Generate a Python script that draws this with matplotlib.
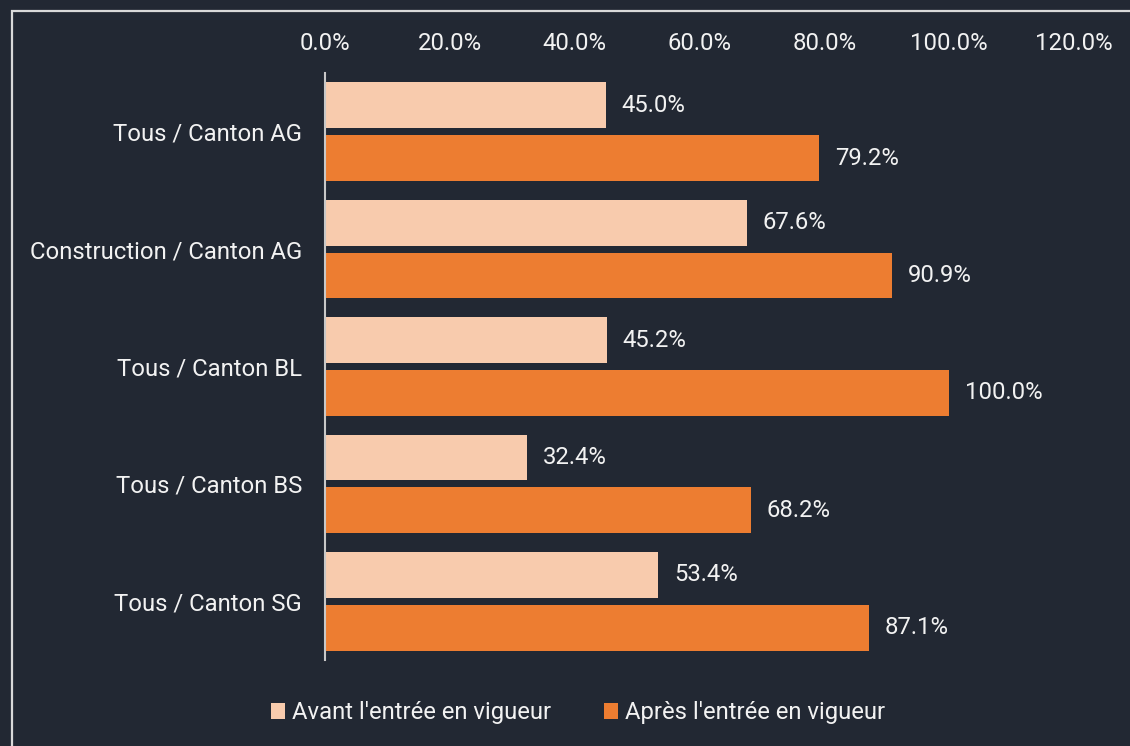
import numpy as np
import matplotlib.pyplot as plt
from matplotlib.patches import Rectangle
from matplotlib.ticker import FuncFormatter

categories = ['Tous / Canton AG', 'Construction / Canton AG', 'Tous / Canton BL',
              'Tous / Canton BS', 'Tous / Canton SG']
avant = [45.0, 67.6, 45.2, 32.4, 53.4]
apres = [79.2, 90.9, 100.0, 68.2, 87.1]
series_names = ["Avant l'entrée en vigueur", "Après l'entrée en vigueur"]

bg = '#222833'
c_avant = '#F8CBAD'
c_apres = '#ED7D31'
txt = '#F2F2F2'
fs = 17.2

plt.rcParams['font.family'] = ['Roboto', 'DejaVu Sans']

fig = plt.figure(figsize=(11.3, 7.46), dpi=100, facecolor=bg)
ax = fig.add_axes([325/1130, 1 - 660/746, (1074 - 325)/1130, (660 - 73)/746])
ax.set_facecolor(bg)

y = np.arange(len(categories))
h = 0.39
off = 0.225
b1 = ax.barh(y - off, avant, height=h, color=c_avant, label=series_names[0])
b2 = ax.barh(y + off, apres, height=h, color=c_apres, label=series_names[1])

for bars, vals in [(b1, avant), (b2, apres)]:
    for bar, v in zip(bars, vals):
        ax.text(v + 2.5, bar.get_y() + bar.get_height()/2, '%.1f%%' % v,
                va='center', ha='left', color=txt, fontsize=fs)

ax.set_xlim(0, 120)
ax.set_ylim(len(categories) - 0.5, -0.5)
ax.set_xticks(np.arange(0, 121, 20))
ax.xaxis.set_major_formatter(FuncFormatter(lambda v, p: '%.1f%%' % v))
ax.xaxis.tick_top()
ax.tick_params(axis='x', length=0, pad=13, labelcolor=txt, labelsize=fs)
ax.set_yticks(y)
ax.set_yticklabels(categories)
ax.tick_params(axis='y', length=0, pad=16.5, labelcolor=txt, labelsize=fs)
for s in ['top', 'right', 'bottom']:
    ax.spines[s].set_visible(False)
ax.spines['left'].set_color('#C8C8C8')
ax.spines['left'].set_linewidth(1.5)

leg = fig.legend(loc='center', bbox_to_anchor=(578/1130, 1 - 713/746), ncol=2,
                 frameon=False, fontsize=fs, handlelength=0.6, handleheight=0.6,
                 handletextpad=0.3, columnspacing=2.2, labelcolor=txt)

# outer frame (cut off on the right and bottom)
fig.patches.append(Rectangle((12/1130, -0.1), 1.2, 1 - 11/746 + 0.1,
                             transform=fig.transFigure, fill=False,
                             edgecolor='#D9D9D9', linewidth=1.6))

fig.savefig('out.png', dpi=100, facecolor=bg)
